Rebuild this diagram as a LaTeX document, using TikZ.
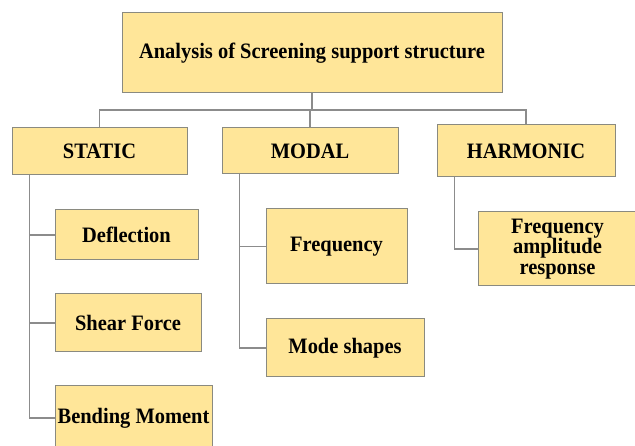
\documentclass[tikz,border=0pt]{standalone}
\usepackage{fontspec}
\setmainfont{Liberation Serif}[BoldFont={Liberation Serif Bold}]
\newfontfamily\boxfont{Liberation Serif Bold}[FakeStretch=0.93]
\definecolor{boxfill}{HTML}{FFE699}
\definecolor{boxline}{HTML}{8A8A80}
\definecolor{wire}{HTML}{8C8C8C}
\begin{document}
\begin{tikzpicture}[x=1pt,y=-1pt,
  box/.style={draw=boxline, line width=1pt, fill=boxfill, rectangle, inner sep=0pt,
    align=center, font=\boxfont\fontsize{22}{20.5}\selectfont},
  wireline/.style={draw=wire, line width=1.3pt}]
\useasboundingbox (0,0) rectangle (635,446);
\clip (0,0) rectangle (635,446);
\node[box, minimum width=380pt, minimum height=80pt] (root) at (312,53) {Analysis of Screening support structure};
\node[box, minimum width=175pt, minimum height=47pt] (static) at (99.5,151.5) {STATIC};
\node[box, minimum width=176pt, minimum height=46pt] (modal) at (310,151) {MODAL};
\node[box, minimum width=178pt, minimum height=52pt] (harm) at (526,151) {HARMONIC};
\node[box, minimum width=143pt, minimum height=50pt] (defl) at (126.5,235) {Deflection};
\node[box, minimum width=146pt, minimum height=58pt] (shear) at (128,323) {Shear Force};
\node[box, minimum width=157pt, minimum height=64pt] (bend) at (133.5,418) {Bending Moment};
\node[box, minimum width=141pt, minimum height=75pt] (freq) at (336.5,246.5) {Frequency};
\node[box, minimum width=158pt, minimum height=58pt] (mode) at (345,348) {Mode shapes};
\node[box, minimum width=159pt, minimum height=74pt] (far) at (557.5,249) {Frequency\\amplitude\\response};
\coordinate (bus) at (312,110);
\draw[wireline] (root.south) -- (bus);
\draw[wireline] (bus) -| (static.north);
\draw[wireline] (bus) -| (harm.north);
\draw[wireline] (modal.north) -- (modal.north |- bus);
\draw[wireline] ([xshift=18pt]static.south west) |- (defl.west);
\draw[wireline] ([xshift=18pt]static.south west) |- (shear.west);
\draw[wireline] ([xshift=18pt]static.south west) |- (bend.west);
\draw[wireline] ([xshift=18pt]modal.south west) |- (freq.west);
\draw[wireline] ([xshift=18pt]modal.south west) |- (mode.west);
\draw[wireline] ([xshift=18pt]harm.south west) |- (far.west);
\end{tikzpicture}
\end{document}
